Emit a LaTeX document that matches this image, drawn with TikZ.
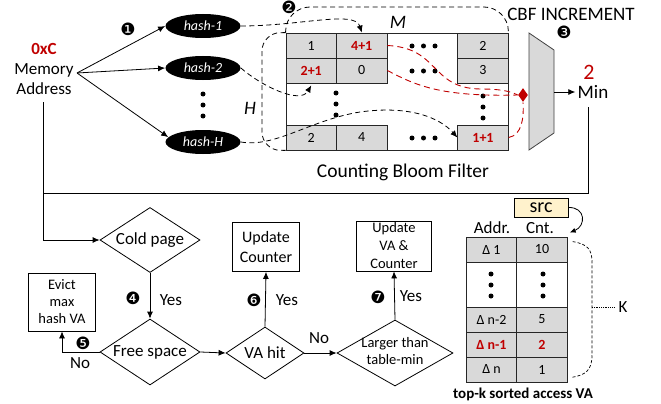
\documentclass[tikz,border=0pt]{standalone}
\usepackage{fontspec}
\setmainfont{Carlito}
\newfontfamily\dejavu{DejaVu Sans}
\usetikzlibrary{shapes.geometric,arrows.meta,calc}
\definecolor{dred}{HTML}{C00000}
\definecolor{cellgray}{HTML}{D9D9D9}
\definecolor{srcfill}{HTML}{FFF2CC}
\begin{document}
\begin{tikzpicture}[x=1pt,y=-1pt, line width=0.8pt,
  >={Latex[length=7,width=6]},
  every node/.style={font=\fontsize{17}{20}\selectfont},
  cell/.style={draw=black!85, fill=cellgray, minimum width=50.5, minimum height=25, inner sep=0, font=\fontsize{14}{14}\selectfont},
  wcell/.style={cell, fill=white},
  hashnode/.style={ellipse, fill=black, text=white, minimum width=75, minimum height=24, inner sep=0, font=\itshape\fontsize{14}{14}\selectfont},
  decision/.style={diamond, draw, inner sep=0},
  procbox/.style={draw, align=center, inner sep=0},
  bdash/.style={dash pattern=on 5pt off 3.5pt},
  rdash/.style={draw=dred, dash pattern=on 6pt off 4pt, line width=0.9pt},
  num/.style={font=\dejavu\fontsize{17}{17}\selectfont, inner sep=0},
  redb/.style={text=dred, font=\bfseries\fontsize{14}{14}\selectfont},
]
\useasboundingbox (0,0) rectangle (661,404);

% ---------- memory address and hashes ----------
\node[align=center, inner sep=0] (mem) at (44,69) {\textcolor{dred}{\bfseries 0xC}\\Memory\\Address};
\coordinate (fan) at (77,73);
\coordinate (memfoot) at (43,102);
\node[hashnode] (h1) at (203,26) {hash-1};
\node[hashnode] (h2) at (203,68) {hash-2};
\node[hashnode] (hH) at (203,142) {hash-H};
\fill (203,94) circle (2.5) (203,105) circle (2.5) (203,116) circle (2.5);
\draw[->] (fan) -- (h1.west);
\draw[->] (fan) -- (h2.west);
\draw[->] (fan) -- (hH.172);
\node[num] (n1) at (128,29) {❶};

% ---------- counting bloom filter ----------
\node[draw=black!85, minimum width=222, minimum height=117, inner sep=0] (cbf) at (397,91.5) {};
\node[cell] (c11) at (311.25,45.5) {1};
\node[cell, redb] (c12) at (361.75,45.5) {4+1};
\node[cell] (c1n) at (483,45.5) {2};
\node[cell, redb] (c21) at (311.25,70.5) {2+1};
\node[cell] (c22) at (361.75,70.5) {0};
\node[cell] (c2n) at (483,70.5) {3};
\node[cell] (cH1) at (311.25,137.5) {2};
\node[cell] (cH2) at (361.75,137.5) {4};
\node[cell, redb] (cHn) at (483,137.5) {1+1};
\foreach \yy in {46,71,138} {\fill (412,\yy) circle (2.5) (423.5,\yy) circle (2.5) (435,\yy) circle (2.5);}
\fill (336,93) circle (2.5) (336,104) circle (2.5) (336,115) circle (2.5);
\fill (483,96) circle (2.5) (483,107) circle (2.5) (483,118) circle (2.5);

\draw[bdash, rounded corners=24] (cbf.north west) -- (286,7) -- (508,7) -- (cbf.north east);
\draw[bdash, rounded corners=18] (cbf.north west) -- (262,33) -- (262,150) -- (cbf.south west);
\node[font=\itshape\fontsize{19}{19}\selectfont] (M) at (398,22) {M};
\node[font=\itshape\fontsize{19}{19}\selectfont] (H) at (250,108) {H};
\node[num] (n2) at (289,7) {❷};
\node[font=\fontsize{19.5}{19.5}\selectfont] (cbflabel) at (403,172) {Counting Bloom Filter};

\draw[bdash, ->] (h1.east) .. controls (300,26) and (355,10) .. (c12.north);
\draw[bdash, ->] (h2.east) .. controls (260,85) and (300,105) .. ($(c21.south)+(0,2)$);
\draw[bdash, ->] (hH.east) .. controls (275,148) and (310,120) .. (360,112) .. controls (410,105) and (440,118) .. (cHn.west);

% ---------- min unit ----------
\node[diamond, fill=dred, minimum width=10, minimum height=14, inner sep=0] (rd) at (523,95) {};
\draw[rdash] (c12.east) .. controls (440,48) and (430,88) .. (480,89) .. controls (500,89) and (510,91) .. (rd.west);
\draw[rdash] (c22.east) .. controls (415,85) and (440,97) .. (rd.west);
\draw[rdash] (cHn.east) .. controls (522,135) and (524,118) .. (rd.south);
\draw[draw=black!75, fill=cellgray] (529,33) -- (554,50) -- (554,133) -- (529,150) -- cycle;
\coordinate (muxout) at (554,92);
\node[font=\fontsize{19}{19}\selectfont] (incr) at (571,14) {CBF INCREMENT};
\node[num] (n3) at (564,32) {❸};
\node[font=\fontsize{22}{22}\selectfont, text=dred] (two) at (589,72) {2};
\node[font=\fontsize{19}{19}\selectfont, inner sep=2] (min) at (593,92) {Min};
\draw[->] (muxout) -- (min.west);
\coordinate (minfoot) at (588,107);
\coordinate (junc) at (43,193);
\draw (minfoot) |- (junc);

% ---------- flowchart ----------
\node[decision, minimum width=100, minimum height=65] (cold) at (150,240) {\makebox[0pt]{Cold page}};
\node[decision, minimum width=100, minimum height=66] (free) at (150,352) {\makebox[0pt]{Free space}};
\node[decision, minimum width=78, minimum height=52] (vahit) at (265,353) {\makebox[0pt]{VA hit}};
\node[decision, minimum width=116, minimum height=66] (larger) at (395,353) {\makebox[0pt]{\fontsize{14.5}{17}\selectfont\begin{tabular}{@{}c@{}}Larger than\\table-min\end{tabular}}};
\node[procbox, minimum width=67, minimum height=49, font=\fontsize{16}{20}\selectfont] (updc) at (266,247) {Update\\Counter};
\node[procbox, minimum width=67, minimum height=58, font=\fontsize{14.5}{17}\selectfont] (evict) at (62,302) {Evict\\max\\hash VA};
\node[procbox, minimum width=75, minimum height=50, font=\fontsize{14.5}{18}\selectfont] (upvc) at (394,246) {Update\\VA \&\\Counter};

\draw[->] (memfoot) |- (cold.west);
\draw[->] (cold.south) -- (free.north);
\node[num] (n4) at (133,298) {❹};
\node (yes1) at (171,300) {Yes};
\draw[->] (free.west) -| (evict.south);
\node[num] (n5) at (83,343) {❺};
\node (no1) at (80,363) {No};
\draw[->] (free.east) -- (vahit.west);
\draw[->] (vahit.north) -- (updc.south);
\node[num] (n6) at (254,300) {❻};
\node (yes2) at (287,300) {Yes};
\draw[->] (vahit.east) -- (larger.west);
\node (no2) at (319,338) {No};
\draw[->] (larger.north) -- (upvc.south);
\node[num] (n7) at (378,297) {❼};
\node (yes3) at (411,296) {Yes};

% ---------- top-k table ----------
\node (addr) at (492,228) {Addr.};
\node (cnt) at (540,228) {Cnt.};
\node[cell] (t11) at (491.5,249.5) {Δ 1};
\node[cell] (t12) at (542,249.5) {10};
\node[wcell, minimum height=45] (t21) at (491.5,284.5) {};
\node[wcell, minimum height=45] (t22) at (542,284.5) {};
\node[cell] (t31) at (491.5,319.5) {Δ n-2};
\node[cell] (t32) at (542,319.5) {5};
\node[cell, redb] (t41) at (491.5,344.5) {Δ n-1};
\node[cell, redb] (t42) at (542,344.5) {2};
\node[cell] (t51) at (491.5,369.5) {Δ n};
\node[cell] (t52) at (542,369.5) {1};
\fill (491,274) circle (2.5) (491,285) circle (2.5) (491,296) circle (2.5);
\fill (543,274) circle (2.5) (543,285) circle (2.5) (543,296) circle (2.5);

\node[draw, fill=srcfill, minimum width=54, minimum height=19, inner sep=0, font=\fontsize{20}{20}\selectfont] (src) at (541,207.5) {src};
\draw[-{Latex[length=6,width=5]}] (src.east) .. controls (586,207) and (586,226) .. ($(t12.north east)+(2,-4)$);

\draw[densely dashed, line width=0.7pt] ($(t12.north east)+(5,5)$) .. controls (588,244) and (592,250) .. (592,262) -- (592,355) .. controls (592,370) and (586,375) .. ($(t52.south east)+(4,-5)$);
\coordinate (kmid) at (592,307);
\node (K) at (623,307) {K};
\draw[densely dotted, line width=0.8pt] (kmid) -- (K.west);
\node[font=\bfseries\fontsize{15}{15}\selectfont] (topk) at (523,394) {top-k sorted access VA};
\end{tikzpicture}
\end{document}
